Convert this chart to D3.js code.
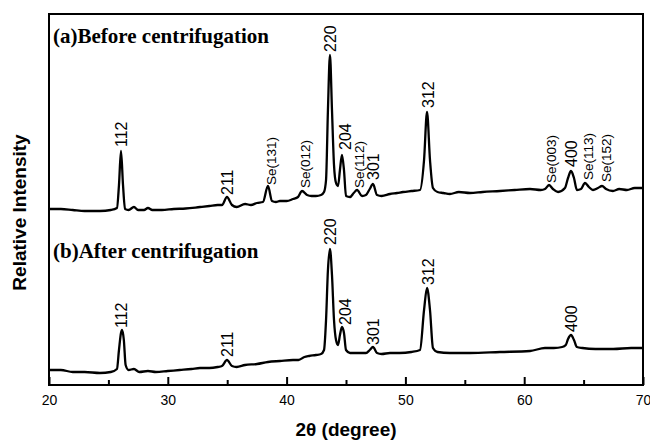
<!DOCTYPE html>
<html>
<head>
<meta charset="utf-8">
<script src="https://cdn.jsdelivr.net/npm/d3@7"></script>
<style>
	body { margin: 0; background: #fff; }
</style>
</head>
<body>
<div id="xrd"></div>
<script>
// 2theta (deg), relative intensity (a.u.)
const beforeScan = [
	[20.0, 176], [21.0, 176], [22.0, 175], [23.0, 174], [24.29, 174], [25.2, 175], [25.72, 177],
	[25.89, 200], [26.06, 234], [26.23, 200], [26.4, 176], [26.7, 175], [27.15, 178], [27.5, 175],
	[28.0, 175], [28.33, 177], [28.7, 175], [29.5, 175], [30.5, 176], [31.5, 176.5], [32.71, 178],
	[33.5, 179], [34.2, 180], [34.56, 180], [34.98, 188], [35.4, 180], [35.8, 178], [36.5, 181],
	[37.0, 180], [37.51, 182], [38.01, 183], [38.43, 199], [38.77, 184], [39.1, 183], [39.44, 184],
	[40.0, 184], [40.54, 186], [40.96, 188], [41.3, 194], [41.72, 190], [42.1, 189], [42.47, 189],
	[42.9, 190], [43.15, 193], [43.32, 205], [43.48, 275], [43.65, 330], [43.82, 275], [43.99, 220],
	[44.16, 202], [44.33, 199], [44.49, 215], [44.66, 230], [44.83, 215], [45.0, 189], [45.34, 188],
	[45.65, 192], [45.93, 195], [46.35, 189], [46.68, 190], [47.0, 196], [47.27, 201], [47.61, 190],
	[48.0, 189], [48.7, 191], [49.3, 192], [49.8, 193], [50.5, 194], [51.23, 195], [51.57, 225],
	[51.82, 273], [52.07, 225], [52.32, 197], [52.7, 193], [53.2, 192], [53.75, 191], [54.5, 193],
	[55.44, 192], [56.5, 193], [57.96, 194], [59.2, 195], [60.49, 196], [61.4, 195], [61.75, 196],
	[62.09, 200], [62.42, 196], [62.85, 193], [63.43, 197], [63.69, 207], [63.94, 214], [64.19, 207],
	[64.44, 195], [64.78, 196], [65.12, 202], [65.45, 198], [65.79, 195], [66.21, 197], [66.55, 199],
	[66.89, 196], [67.47, 194], [68.0, 196], [68.65, 195], [69.3, 197], [70.0, 197]
];
const afterScan = [
	[20.0, 15], [21.0, 15], [22.0, 13], [23.0, 13], [24.29, 12], [25.2, 13], [25.72, 16],
	[25.89, 35], [26.06, 52], [26.15, 55], [26.3, 45], [26.45, 20], [26.7, 15], [27.15, 16],
	[27.6, 13], [28.33, 14], [29.0, 13], [30.0, 14], [31.0, 15], [32.0, 16], [32.71, 17],
	[33.5, 17], [34.2, 18], [34.56, 19], [34.98, 25], [35.4, 19], [35.8, 18], [36.5, 20],
	[37.51, 21], [38.43, 23], [39.44, 24], [40.54, 25], [41.0, 25], [41.5, 28], [41.9, 29],
	[42.47, 30], [42.9, 31], [43.15, 35], [43.32, 65], [43.48, 115], [43.65, 136], [43.82, 110],
	[43.99, 65], [44.16, 45], [44.33, 40], [44.49, 50], [44.66, 58], [44.83, 52], [45.0, 35],
	[45.34, 32], [46.0, 32], [46.68, 32], [47.0, 35], [47.27, 38], [47.61, 32], [48.0, 31],
	[48.7, 32], [49.5, 32], [50.5, 33], [51.23, 35], [51.57, 75], [51.82, 97], [52.07, 75],
	[52.32, 37], [52.7, 33], [53.75, 32], [55.44, 32], [57.96, 33], [60.49, 34], [61.75, 37],
	[62.5, 37], [63.2, 38], [63.5, 40], [63.69, 46], [63.94, 50], [64.19, 45], [64.44, 38],
	[64.9, 37], [66.0, 36], [67.5, 36], [69.0, 37], [70.0, 37]
];
// peak label, 2theta, intensity at the foot of the label
const beforePeaks = [
	['112', 26.06, 238], ['211', 34.98, 190], ['Se(131)', 38.69, 200], ['Se(012)', 41.55, 197],
	['220', 43.65, 333], ['204', 44.92, 235], ['Se(112)', 46.09, 197], ['301', 47.27, 205],
	['312', 51.9, 277], ['Se(003)', 62.26, 202], ['400', 63.94, 218], ['Se(113)', 65.37, 205],
	['Se(152)', 66.89, 203]
];
const afterPeaks = [
	['112', 26.06, 57], ['211', 34.98, 28], ['220', 43.65, 140], ['204', 44.92, 60],
	['301', 47.27, 40], ['312', 51.9, 100], ['400', 63.94, 53]
];
const panelTitles = ['(a)Before centrifugation', '(b)After centrifugation'];
const xTicks = [20, 30, 40, 50, 60, 70];
const xMinorTicks = [25, 35, 45, 55, 65];
const xDomain = [20, 70];
const yDomain = [0, 371];
const xName = '2θ (degree)';
const yName = 'Relative Intensity';

const width = 650;
const height = 441;
const margins = { top: 14, left: 49, right: 7, bottom: 56 };
const quadrantWidth = width - margins.left - margins.right;
const quadrantHeight = height - margins.top - margins.bottom;

let svg = d3.select('#xrd').append('svg')
	.attr('width', width)
	.attr('height', height);

let body = svg.append('g')
	.attr('transform', `translate(${margins.left},${margins.top})`);

let xScale = d3.scaleLinear().domain(xDomain).range([0, quadrantWidth]);
let yScale = d3.scaleLinear().domain(yDomain).range([quadrantHeight, 0]);

// ticks point inward
let xAxis = d3.axisBottom(xScale).tickValues(xTicks).tickSize(-8).tickPadding(10);
let xMinor = d3.axisBottom(xScale).tickValues(xMinorTicks).tickSize(-5).tickFormat('');

let gX = body.append('g')
	.attr('transform', `translate(0,${quadrantHeight})`)
	.call(xAxis);
gX.select('.domain').remove();
gX.selectAll('line').attr('stroke', '#000').attr('stroke-width', 2);
gX.selectAll('text')
	.attr('fill', '#000')
	.style('font-family', 'Arial, "Liberation Sans", sans-serif')
	.style('font-size', '14px');

let gMinor = body.append('g')
	.attr('transform', `translate(0,${quadrantHeight})`)
	.call(xMinor);
gMinor.select('.domain').remove();
gMinor.selectAll('line').attr('stroke', '#000').attr('stroke-width', 2);

let line = d3.line()
	.x(d => xScale(d[0]))
	.y(d => yScale(d[1]))
	.curve(d3.curveMonotoneX);

[beforeScan, afterScan].forEach(scan => {
	body.append('path')
		.datum(scan)
		.attr('fill', 'none')
		.attr('stroke', '#000')
		.attr('stroke-width', 2.3)
		.attr('stroke-linejoin', 'round')
		.attr('d', line);
});

[beforePeaks, afterPeaks].forEach(peaks => {
	body.append('g').selectAll('text')
		.data(peaks)
		.enter().append('text')
		.attr('transform', d => `translate(${xScale(d[1])},${yScale(d[2])}) rotate(-90)`)
		.attr('dy', '0.36em')
		.style('text-anchor', 'start')
		.style('font-family', 'Arial, "Liberation Sans", sans-serif')
		.style('font-size', d => d[0].startsWith('Se') ? '13.5px' : '16px')
		.text(d => d[0]);
});

// panel captions
body.selectAll('.caption')
	.data(panelTitles)
	.enter().append('text')
	.attr('class', 'caption')
	.attr('x', 4)
	.attr('y', (d, i) => i === 0 ? 29 : 244)
	.style('font-family', '"Times New Roman", "Liberation Serif", serif')
	.style('font-weight', 'bold')
	.style('font-size', '21px')
	.text(d => d);

// frame
body.append('rect')
	.attr('width', quadrantWidth)
	.attr('height', quadrantHeight)
	.attr('fill', 'none')
	.attr('stroke', '#000')
	.attr('stroke-width', 2);

svg.append('text')
	.attr('x', margins.left + quadrantWidth / 2)
	.attr('y', 436)
	.style('text-anchor', 'middle')
	.style('font-family', 'Arial, "Liberation Sans", sans-serif')
	.style('font-weight', 'bold')
	.style('font-size', '19px')
	.text(xName);

svg.append('text')
	.attr('transform', `translate(26,${margins.top + quadrantHeight / 2 + 13}) rotate(-90)`)
	.style('text-anchor', 'middle')
	.style('font-family', 'Arial, "Liberation Sans", sans-serif')
	.style('font-weight', 'bold')
	.style('font-size', '19px')
	.text(yName);
</script>
</body>
</html>
